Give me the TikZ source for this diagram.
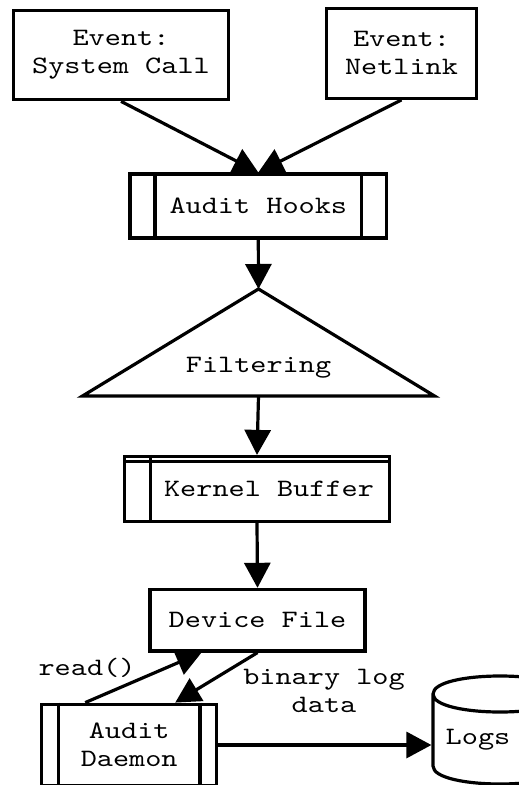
\documentclass[tikz,border=0pt]{standalone}
\usepackage{fontspec}
\setmonofont{lmmono10-regular.otf}[FakeStretch=1.23]
\usepackage{tikz}
\usetikzlibrary{arrows.meta,calc}

\begin{document}
\begin{tikzpicture}[x=.5pt,y=-.5pt,every node/.style={font=\ttfamily\fontsize{12.5}{14}\selectfont},
    box/.style={draw,line width=1.6pt,inner sep=0pt,align=center},
    ln/.style={line width=1.6pt},
    arr/.style={-{Triangle[length=12.5pt,width=13pt]},line width=1.6pt}]
    \path[fill=white,use as bounding box] (0,0) rectangle (518,785);
    \node[box,minimum width=107.5pt,minimum height=44.75pt] (sys) at (121,55) {Event:\\System Call};
    \node[box,minimum width=75pt,minimum height=45pt] (net) at (401.5,53.3) {Event:\\Netlink};
    \node[box,minimum width=128.3pt,minimum height=32pt] (hooks) at (258.3,206) {Audit Hooks};
    \draw[ln] ([xshift=13.3pt]hooks.north west) -- ([xshift=13.3pt]hooks.south west); \draw[ln] ([xshift=-13.3pt]hooks.north east) -- ([xshift=-13.3pt]hooks.south east);
    % filtering triangle
    \node[inner sep=0pt,outer sep=0pt,minimum width=176pt,minimum height=53.5pt,label={[yshift=-12.75pt]center:Filtering}] (filter) at (258.5,342.5) {};
    \draw[ln] (filter.south west) -- (filter.north) -- (filter.south east) -- cycle;
    \node[box,minimum width=132.4pt,minimum height=32.5pt] (kbuf) at (257,489) {\hspace*{12pt}Kernel Buffer};
    \draw[ln] ([xshift=13.55pt]kbuf.north west) -- ([xshift=13.55pt]kbuf.south west); \draw[line width=1.3pt] ([yshift=-3.2pt]kbuf.north west) -- ([yshift=-3.2pt]kbuf.north east);
    \node[box,minimum width=107.5pt,minimum height=30.8pt] (dev) at (257.5,620.2) {Device File};
    \node[box,minimum width=87.5pt,minimum height=40.8pt] (daemon) at (129.2,745) {Audit\\Daemon};
    \draw[ln] ([xshift=9.15pt]daemon.north west) -- ([xshift=9.15pt]daemon.south west); \draw[ln] ([xshift=-9.15pt]daemon.north east) -- ([xshift=-9.15pt]daemon.south east);
    % logs cylinder
    \node[inner sep=0pt,minimum width=45pt,outer sep=.8pt] (logs) at (478,740) {Logs};
    \draw[ln] (433,694) -- (433,766) .. controls (433,790) and (567,790) .. (567,766) -- (567,694) .. controls (567,670) and (433,670) .. (433,694) .. controls (433,718) and (567,718) .. (567,694);
    \draw[arr] (sys.south) -- (hooks.north); \draw[arr] (net.south) -- (hooks.north);
    \draw[arr] (hooks.south) -- (filter.north); \draw[arr] (filter.south) -- (kbuf.north);
    \draw[arr] (kbuf.south) -- (dev.north);
    \draw[arr] ([xshift=-22pt]daemon.north) -- ([xshift=-28pt]dev.south);
    \draw[arr] (dev.south) -- ([xshift=23pt]daemon.north);
    \draw[arr] (daemon.east) -- (daemon.east -| logs.west);
    \node (rd) at (87,668) {read()};
    \node[align=center] (bin) at (324,691) {binary log\\data};
  \end{tikzpicture}
\end{document}
